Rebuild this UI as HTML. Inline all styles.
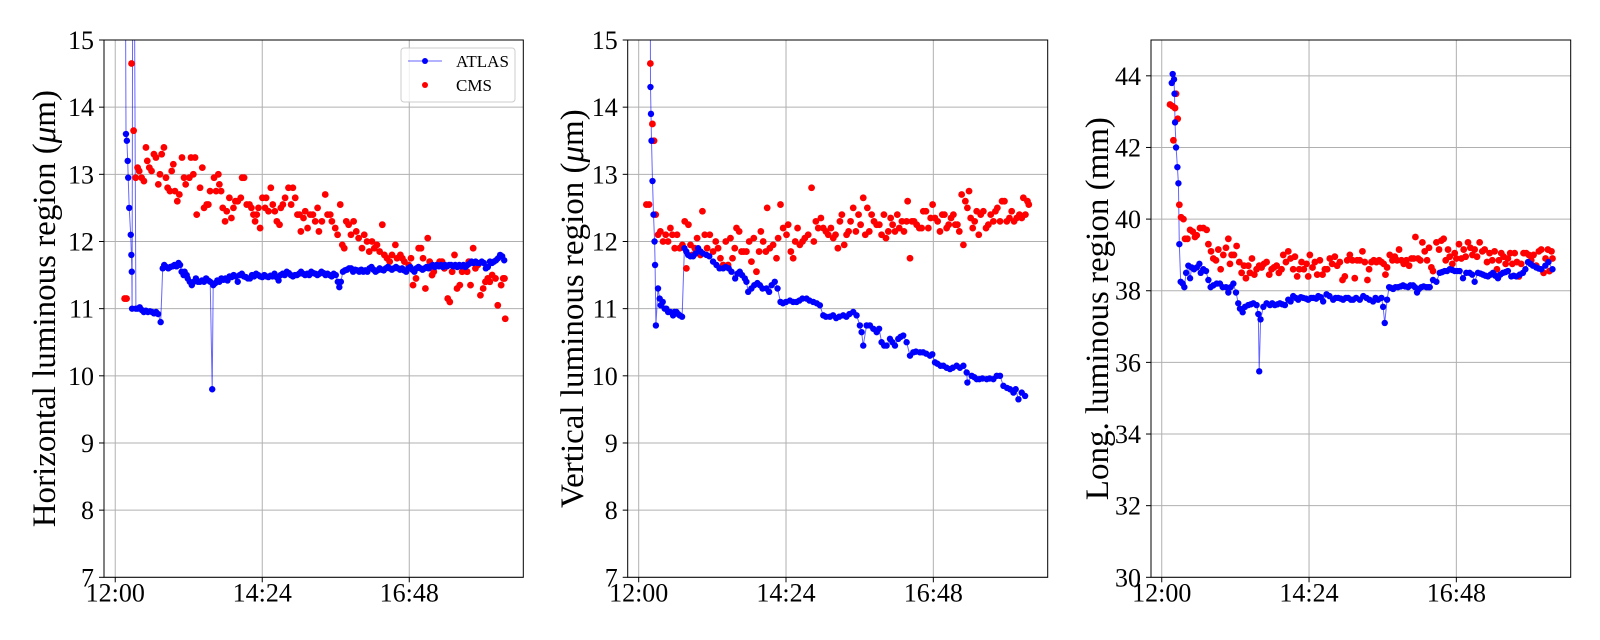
<!DOCTYPE html>
<html><head><meta charset="utf-8">
<style>
html,body{margin:0;padding:0;background:#fff;}
svg{display:block;font-family:"Liberation Serif","DejaVu Serif",serif;}
</style></head>
<body>
<svg id="fig" width="1600" height="640" viewBox="0 0 1600 640" xmlns="http://www.w3.org/2000/svg"></svg>
<script>
// ---- data (time in minutes after 12:00) ----
const xTickValues = [0, 144, 288];
const xTickLabels = ["12:00", "14:24", "16:48"];
const yTicksUm = [7, 8, 9, 10, 11, 12, 13, 14, 15];
const yTicksMm = [30, 32, 34, 36, 38, 40, 42, 44];

const hAtlasT = [9,10.5,11.4,12.2,12.7,13.7,15.2,15.8,16.2,16.5,17.5,20.2,22,24,26,28,30,32,34,36,38,40,42,44.5,46.5,48,50,52,54,56,58,60,62,63.5,65,67,68,70,71,73,75,77,79,81,83,85,87,89,91,93,95,96,98,100,102,104,106,108,110,112,114,116,118,120,122,124,126,128,130,132,134,136,138,140,142,144,146,148,150,152,154,156,158,160,162,164,166,168,170,172,174,176,178,180,182,184,186,188,190,192,194,196,198,200,202,204,206,208,210,212,214,216,218,219.5,221,223,225,227,229,231,233,235,237,239,241,243,245,247,249,251,253,255,257,259,261,263,265,267,269,271,273,275,277,279,281,283,285,287,289,291,293,295,297,299,301,303,305,307,309,311,313,315,317,319,321,323,325,327,329,331,333,335,337,339,341,343,345,347,349,351,353,355,357,359,361,363,365,367,369,371,373,375,377,379,381];
const hAtlasV = [20,13.6,13.5,13.2,12.95,12.5,12.1,11.8,11.55,11.0,20,11.0,11.0,11.02,10.98,10.95,10.97,10.95,10.96,10.95,10.93,10.95,10.92,10.8,11.6,11.65,11.62,11.6,11.62,11.63,11.65,11.63,11.68,11.65,11.55,11.5,11.55,11.5,11.45,11.4,11.35,11.4,11.45,11.4,11.4,11.42,11.4,11.45,11.42,11.4,9.8,11.35,11.38,11.42,11.4,11.45,11.43,11.45,11.42,11.48,11.47,11.5,11.48,11.4,11.5,11.52,11.48,11.47,11.45,11.45,11.5,11.48,11.52,11.5,11.48,11.47,11.5,11.48,11.47,11.49,11.48,11.52,11.47,11.42,11.5,11.52,11.5,11.55,11.53,11.5,11.48,11.5,11.5,11.52,11.55,11.52,11.5,11.52,11.5,11.55,11.53,11.52,11.5,11.52,11.55,11.53,11.5,11.52,11.5,11.48,11.52,11.5,11.4,11.32,11.4,11.55,11.57,11.58,11.6,11.6,11.55,11.58,11.57,11.55,11.58,11.55,11.57,11.55,11.6,11.62,11.58,11.55,11.57,11.6,11.58,11.57,11.6,11.62,11.6,11.58,11.6,11.62,11.6,11.58,11.6,11.57,11.55,11.6,11.62,11.58,11.55,11.6,11.62,11.6,11.58,11.6,11.62,11.6,11.63,11.65,11.62,11.65,11.63,11.65,11.62,11.65,11.63,11.65,11.65,11.63,11.65,11.62,11.65,11.63,11.65,11.62,11.65,11.67,11.7,11.68,11.7,11.68,11.68,11.7,11.68,11.6,11.62,11.7,11.68,11.7,11.72,11.75,11.8,11.78,11.72];

const hCmsT = [9.2,11.1,16,18,20,21.9,23.5,25.8,28.1,30.1,31.4,33.4,35.6,37.9,39.9,42.2,43.8,45.5,47.7,49.7,51.3,53.6,55.3,56.9,58.5,60.8,62.8,65.4,67.4,69,72.6,74.2,76.5,78.2,79.8,83.1,85.3,87,89.6,91.2,92.9,96.8,98.8,101,102,103.7,105.3,107.6,109.2,111.8,113.8,115.8,117.7,120,123,124.3,126.2,128.8,131.5,133.4,135.4,137,138.6,140.3,141.9,144.2,146.8,147.8,150.1,152.4,154.3,156.3,158.3,160.9,162.2,164.2,166.4,169.7,172.3,174,176.3,178.5,180.5,181.8,184.4,186.1,188.4,191,193.6,195.9,198.2,199.5,202.4,205.7,208,210.6,212.2,215.5,217.8,220.4,222.4,224.3,226.3,228.6,230.9,233.5,236.1,238.4,241.7,243.9,246.6,248.8,251.5,253.8,256.4,259,261.6,263.6,266.2,268.8,271.1,274.4,276,279.3,281.2,283.2,287.4,289.7,291.7,294.6,297.2,299.5,301.5,303.8,306.1,308,310.3,312,315.2,317.8,320.1,322.4,325.7,327.7,330,332.3,334.8,337.5,339.8,342,344.7,346.3,348,350.6,352.8,355.1,357.7,360.4,362.6,364.9,366.9,369.2,372.5,374.7,378,380,381.3,382];
const hCmsV = [11.15,11.15,14.65,13.65,12.95,13.1,13.05,12.95,12.9,13.4,13.2,13.1,13.05,13.3,13.25,12.85,13.0,13.3,13.4,12.95,12.8,12.75,13.05,13.15,12.75,12.6,12.7,13.25,12.95,12.85,12.95,13.25,13.0,13.25,12.4,12.8,13.1,12.5,12.55,12.55,12.75,12.95,12.75,13.0,12.85,12.75,12.5,12.3,12.45,12.65,12.35,12.5,12.6,12.6,12.65,12.95,12.95,12.55,12.55,12.5,12.4,12.3,12.4,12.5,12.2,12.65,12.5,12.65,12.45,12.8,12.55,12.45,12.3,12.25,12.5,12.55,12.65,12.8,12.55,12.8,12.65,12.4,12.4,12.15,12.35,12.45,12.2,12.4,12.4,12.3,12.5,12.15,12.3,12.7,12.4,12.4,12.3,12.2,12.1,12.55,11.95,11.9,12.3,12.25,12.1,12.3,12.15,12.05,11.9,12.1,12.0,11.85,12.0,11.9,11.95,11.85,12.25,11.8,11.75,11.7,11.8,11.95,11.75,11.8,11.75,11.7,11.65,11.75,11.35,11.45,11.9,11.9,11.75,11.3,12.05,11.7,11.5,11.55,11.65,11.7,11.7,11.6,11.15,11.1,11.55,11.8,11.3,11.35,11.55,11.6,11.55,11.7,11.35,11.9,11.6,11.65,11.2,11.3,11.4,11.45,11.4,11.5,11.45,11.05,11.35,11.45,11.45,10.85];

const vAtlasT = [10.8,11.5,12,12.5,13.5,14.5,15.5,16,16.8,18.9,20.5,21.5,23.5,25.4,27,28.7,31,33.6,35,36.9,38.5,40.1,42.4,44.7,46.5,48.3,50.5,53.2,55.5,58.1,60.5,63,66.2,69,72.7,76,79,82.5,85,88,90.7,94.3,96.5,98.8,101,103.7,105.3,107,110.2,113,116,118.4,121,124.9,127.5,130,133,135.7,138.6,141,144,147.8,151,154.3,157,160,164.1,167,170.6,174,177.1,180.4,183,186.9,190,193,196,199.9,203,206,209.7,213,216.2,217.9,219.5,222.8,226,229.3,232.6,235,237.4,240,242.3,245.6,248,250.5,253.7,256,258.6,261.9,265.2,268.4,271,275,278,281,284.7,287,289.6,292,295,297.8,301,304.3,307,310.8,314,317.4,320.6,321.3,325.5,328,330.4,333,336,340.2,343,346.7,350,353.2,356.5,360,363,366.3,368.5,371.2,374.4,377.7,381];
const vAtlasV = [20,14.3,13.9,13.5,12.9,12.4,12.0,11.65,10.75,11.3,11.15,11.05,11.1,11.0,11.0,10.95,10.95,10.9,10.95,10.95,10.92,10.9,10.88,11.9,11.85,11.8,11.78,11.78,11.82,11.9,11.85,11.82,11.8,11.78,11.7,11.65,11.6,11.6,11.62,11.6,11.55,11.45,11.52,11.55,11.5,11.45,11.4,11.25,11.3,11.35,11.38,11.35,11.3,11.3,11.25,11.35,11.4,11.3,11.1,11.08,11.1,11.12,11.1,11.1,11.12,11.15,11.15,11.12,11.1,11.08,11.05,10.9,10.88,10.88,10.9,10.86,10.88,10.9,10.88,10.92,10.95,10.9,10.75,10.65,10.45,10.75,10.75,10.7,10.65,10.7,10.5,10.45,10.45,10.55,10.5,10.45,10.55,10.58,10.6,10.5,10.3,10.35,10.36,10.35,10.35,10.33,10.3,10.32,10.2,10.18,10.15,10.15,10.12,10.1,10.12,10.15,10.12,10.15,10.05,9.9,10.0,9.98,9.95,9.95,9.96,9.95,9.96,9.95,10.0,10.0,9.85,9.82,9.8,9.75,9.8,9.65,9.75,9.7];

const vCmsT = [7.5,10.1,11.4,13.4,15,16.6,18.9,21.2,23.8,26.4,28.7,31,32.9,35.2,37.5,40.1,42.7,45,46.6,48.6,50.6,52.5,54.8,57.1,60.3,62.3,64.6,66.9,69.5,72.7,75.3,77.6,79.9,82.5,85.1,87.4,89.7,91.7,93.9,95.6,98.2,100.5,102.7,105.3,108,110.2,112.5,115.1,117.7,119.4,121.7,124.3,125.6,128.2,131.4,134.7,136.3,138.6,141.2,144.5,146.1,148.7,151,153,155.3,157.5,160.1,162.4,165.7,169,171.2,173.2,175.5,178.1,180.4,183,185.3,187.9,190.2,192.4,194.7,196.7,198.6,200.9,203.2,205.2,207.1,209.7,212.3,214.9,216.9,219.5,221.5,223.5,225.4,227.7,230,232.6,235.2,237.4,239.7,241.7,244,246.3,248.2,250.5,252.8,254.7,257.3,259.3,261.9,262.9,265.2,267.1,269.1,271.7,274.3,276.6,278.2,280.8,283.1,285.4,287.3,289.6,292.2,294.5,296.8,298.8,301,303,305.3,307.6,309.5,311.5,313.4,315.7,317.4,319.3,321.3,322.9,324.5,326.5,328.4,330.4,332.4,334.3,336.9,339.5,341.8,344.1,346.7,348.7,350.6,353.2,355.2,357.5,359.8,362.4,364.6,366.9,369.5,372.2,374.4,376,378,380,381.3];
const vCmsV = [12.55,12.55,14.65,13.75,13.5,12.4,12.1,12.15,12.0,12.1,12.0,12.2,12.1,11.9,12.1,11.9,11.95,12.3,11.6,12.25,11.95,11.8,11.9,12.05,11.8,12.45,12.1,11.9,12.1,11.85,12.0,11.9,11.75,11.65,12.0,11.65,12.05,11.75,11.9,12.2,12.15,11.85,11.85,11.85,12.0,11.7,12.05,11.55,11.85,12.15,12.0,11.85,12.5,11.9,11.95,11.75,12.05,12.55,12.2,12.1,12.25,11.85,11.75,12.0,12.2,11.95,12.0,12.05,12.1,12.8,12.0,12.3,12.2,12.35,12.2,12.15,12.1,12.2,12.05,12.1,11.9,12.3,12.4,11.95,12.1,12.15,12.3,12.5,12.15,12.4,12.25,12.65,12.1,12.5,12.15,12.4,12.3,12.25,12.25,12.1,12.4,12.05,12.15,12.35,12.25,12.15,12.4,12.2,12.3,12.15,12.3,12.6,11.75,12.3,12.3,12.25,12.2,12.2,12.45,12.45,12.2,12.35,12.55,12.35,12.3,12.15,12.4,12.4,12.2,12.25,12.35,12.4,12.25,12.25,12.15,12.7,11.95,12.6,12.5,12.75,12.35,12.2,12.3,12.45,12.1,12.4,12.45,12.2,12.25,12.4,12.3,12.45,12.5,12.3,12.6,12.6,12.3,12.35,12.45,12.3,12.35,12.4,12.35,12.65,12.4,12.6,12.55];

const lAtlasT = [9.8,10.7,12,12.5,13,14,15.3,16.3,17.2,18.5,20.5,22.1,23.8,26,27.7,29.3,31.6,34.2,36.8,38.1,40.7,43.3,45.6,47.8,50.4,53.7,56.9,59.6,62.8,65.1,67.4,70,72.6,74.8,76.5,79.1,81.4,84.6,87,89.5,92.7,94.4,95.3,96.6,99.3,102.5,105.8,108,110.6,113,115.5,118,120.4,123.7,126,128.5,131,133.4,136,138.3,141,143.2,146,148.1,151,153,155.5,157.8,161.1,164,167.6,170,172.5,175,177.3,180,182.2,185,187.1,190,193.6,197,200.1,203,206.6,209,211.5,214.8,216.4,218,220.3,222.3,224,226.2,228.5,231,233.5,235.9,238,240.8,243,245.7,247.5,249.6,251.5,253.8,256,258.7,260.5,262,265.2,268.5,271.7,274,276.6,279,281.5,284,286.4,289,291.2,294.5,297.7,301,303.5,305.9,309.1,311.5,314,316.5,318.9,321.5,323.8,326,328.7,331,333.5,336,338.4,341.7,344,346.6,350,353.1,355.5,358,360.5,362.8,366.1,368.5,371,375,378,382];
const lAtlasV = [43.8,44.05,43.9,43.5,42.7,42.0,41.45,41.0,39.3,38.25,38.2,38.1,38.5,38.7,38.35,38.65,38.6,38.65,38.75,38.5,38.6,38.55,38.3,38.1,38.15,38.2,38.2,38.1,38.1,37.95,38.1,38.2,37.95,37.65,37.5,37.4,37.55,37.6,37.62,37.65,37.6,37.35,35.75,37.2,37.55,37.65,37.6,37.65,37.6,37.62,37.65,37.62,37.6,37.75,37.7,37.85,37.8,37.75,37.82,37.8,37.78,37.75,37.8,37.8,37.78,37.85,37.82,37.7,37.9,37.85,37.75,37.8,37.8,37.78,37.75,37.8,37.8,37.75,37.75,37.8,37.75,37.85,37.8,37.75,37.7,37.8,37.75,37.8,37.55,37.1,37.75,38.1,38.08,38.05,38.1,38.1,38.12,38.15,38.12,38.1,38.15,38.15,38.1,37.95,38.05,38.1,38.12,38.1,38.1,38.1,38.3,38.25,38.5,38.52,38.55,38.55,38.6,38.58,38.55,38.55,38.55,38.35,38.5,38.5,38.45,38.25,38.5,38.48,38.45,38.42,38.4,38.45,38.5,38.42,38.35,38.45,38.5,38.52,38.55,38.4,38.42,38.4,38.45,38.5,38.6,38.8,38.75,38.7,38.65,38.62,38.6,38.7,38.8,38.6];

const lCmsT = [8.1,10.7,11.4,13,14,15.6,17.2,18.9,21.2,22.8,25.1,27.7,30.3,32.5,34.2,37.4,40.7,43.9,45.6,48.2,50.4,53,55.3,57.6,60.2,62.8,65.1,66.7,68.3,70.6,73.2,75.8,78.1,80.4,82.3,84.6,86.2,88.2,90.5,92.7,95.3,97.6,99.9,102.5,105.1,107.4,109.7,112.3,114.5,117.1,118.8,121.4,123.7,125.9,128.5,130.2,132.4,134.4,136.7,138.9,141.6,143.2,144.8,147.4,149.7,152,154.6,157.2,159.5,161.7,164.3,166.6,169.2,171.5,174.1,176.7,179,181.3,183.9,186.5,188.7,191,193.6,196.2,198.5,201.1,202.7,205,207.3,209.9,212.5,214.8,217,218.7,220.3,222.9,225.5,227.8,230.1,232,234.3,236.6,239.2,241.8,244.1,246.3,248,250.6,252.8,254.8,257.1,259.4,261.3,263.6,265.2,268.5,271.1,273.3,275.6,277.6,279.9,281.5,284.1,286.4,288,290.6,292.9,295.2,297.1,299.4,301.7,303.7,305.9,308.2,310.8,313.4,315.7,318,320.5,323.1,325.4,327.7,329.6,331.9,334.2,336.2,338.4,340.7,342.7,345,347.2,349.2,351.4,353.7,356.3,358.9,361.2,363.5,366.1,368.7,371,373.3,375.2,377.5,379,381,382];
const lCmsV = [43.2,43.15,42.2,43.1,43.5,42.8,40.4,40.05,40.0,39.45,39.45,39.7,39.65,39.5,39.55,39.75,39.75,39.7,39.3,39.1,38.9,38.85,39.15,38.6,39.0,39.2,39.45,38.75,39.0,39.0,39.25,38.8,38.5,38.7,38.35,38.7,38.5,38.9,38.45,38.6,38.7,38.65,38.75,38.8,38.45,38.6,38.65,38.7,38.5,38.6,39.0,38.8,39.1,38.9,38.6,38.95,38.4,38.6,38.8,38.6,38.75,38.4,39.0,38.65,38.8,38.45,38.85,38.45,38.6,38.6,38.9,38.75,38.95,38.7,38.8,38.3,38.4,38.85,39.0,38.85,38.35,38.85,38.85,39.1,38.8,38.3,38.6,38.8,38.85,38.8,38.85,38.8,38.75,38.45,38.65,39.0,38.85,38.95,38.85,39.15,38.85,38.75,38.85,38.7,38.9,38.9,39.5,38.9,38.85,39.35,39.1,38.85,39.2,38.65,38.55,39.35,39.15,39.4,39.45,38.85,39.15,38.95,38.75,39.05,38.9,39.3,38.9,39.15,38.95,39.35,39.2,39.0,39.15,38.95,39.35,39.1,39.15,38.8,39.05,38.85,39.1,38.6,38.85,39.05,38.95,38.75,38.9,39.05,38.75,39.05,38.8,38.4,38.75,39.05,39.05,39.0,38.85,39.0,38.7,39.1,39.15,38.5,38.9,39.15,38.55,39.1,38.9];

// ---- rendering ----
const NS = "http://www.w3.org/2000/svg";
const fig = document.getElementById("fig");
function mk(tag, attrs, parent) {
  const e = document.createElementNS(NS, tag);
  for (const k in attrs) e.setAttribute(k, attrs[k]);
  (parent || fig).appendChild(e);
  return e;
}

const panels = [
  {id:"horizontal", left:104, right:523.3, xmin:-11, xmax:399.7, ymin:7, ymax:15, yticks:yTicksUm,
   title:"Horizontal luminous region (", unit:"μ", unitEnd:"m)", titleX:44,
   atlasT:hAtlasT, atlasV:hAtlasV, cmsT:hCmsT, cmsV:hCmsV, legend:true},
  {id:"vertical", left:627.7, right:1047.7, xmin:-10.75, xmax:399.8, ymin:7, ymax:15, yticks:yTicksUm,
   title:"Vertical luminous region (", unit:"μ", unitEnd:"m)", titleX:572,
   atlasT:vAtlasT, atlasV:vAtlasV, cmsT:vCmsT, cmsV:vCmsV, legend:false},
  {id:"longitudinal", left:1151, right:1570.7, xmin:-10.5, xmax:399.8, ymin:30, ymax:45, yticks:yTicksMm,
   title:"Long. luminous region (mm)", unit:"", unitEnd:"", titleX:1097,
   atlasT:lAtlasT, atlasV:lAtlasV, cmsT:lCmsT, cmsV:lCmsV, legend:false}
];
const TOP = 40, BOTTOM = 577.3;

panels.forEach((p, pi) => {
  const xs = t => p.left + (t - p.xmin) / (p.xmax - p.xmin) * (p.right - p.left);
  const ys = v => BOTTOM - (v - p.ymin) / (p.ymax - p.ymin) * (BOTTOM - TOP);
  const g = mk("g", {});
  
  
  const clipId = "clip" + pi;
  const cp = mk("clipPath", {id: clipId}, g);
  mk("rect", {x:p.left, y:TOP, width:p.right-p.left, height:BOTTOM-TOP}, cp);

  const grid = mk("g", {stroke:"#b0b0b0", "stroke-width":"1"}, g);
  
  
  p.yticks.forEach(v => { mk("line", {x1:p.left, x2:p.right, y1:ys(v), y2:ys(v)}, grid); });
  xTickValues.forEach(t => { mk("line", {x1:xs(t), x2:xs(t), y1:TOP, y2:BOTTOM}, grid); });

  const yax = mk("g", {}, g);
  
  
  p.yticks.forEach(v => {
    mk("line", {x1:p.left-5, x2:p.left, y1:ys(v), y2:ys(v), stroke:"#000", "stroke-width":"1"}, yax);
    const tx = mk("text", {x:p.left-10, y:ys(v)+9, "text-anchor":"end", "font-size":"26", fill:"#000"}, yax);
    
    
    tx.textContent = v;
  });
  const xax = mk("g", {}, g);
  
  
  xTickValues.forEach((t, i) => {
    mk("line", {x1:xs(t), x2:xs(t), y1:BOTTOM, y2:BOTTOM+5, stroke:"#000", "stroke-width":"1"}, xax);
    const tx = mk("text", {x:xs(t), y:BOTTOM+24, "text-anchor":"middle", "font-size":"26", fill:"#000"}, xax);
    
    
    tx.textContent = xTickLabels[i];
  });
  const yt = mk("text", {x:0, y:0, "text-anchor":"middle", "font-size":"33", fill:"#000",
    transform:"translate(" + (p.titleX + 11) + "," + ((TOP+BOTTOM)/2) + ") rotate(-90)"}, g);
  
  
  yt.appendChild(document.createTextNode(p.title));
  if (p.unit) {
    const ts = mk("tspan", {"font-style":"italic"}, yt);
    ts.textContent = p.unit;
    yt.appendChild(document.createTextNode(p.unitEnd));
  }

  const plot = mk("g", {"clip-path":"url(#" + clipId + ")"}, g);
  const pts = p.atlasT.map((t, i) => xs(t).toFixed(1) + "," + ys(p.atlasV[i]).toFixed(1)).join(" ");
  const line = mk("polyline", {points:pts, fill:"none", stroke:"#0000ff", "stroke-opacity":"0.6", "stroke-width":"1"}, plot);
  
  
  const cmsG = mk("g", {fill:"#ff0000"}, plot);
  
  
  p.cmsT.forEach((t, i) => {
    const c = mk("circle", {cx:xs(t), cy:ys(p.cmsV[i]), r:3.4}, cmsG);
    
    
  });
  const atG = mk("g", {fill:"#0000ff"}, plot);
  
  
  p.atlasT.forEach((t, i) => {
    const c = mk("circle", {cx:xs(t), cy:ys(p.atlasV[i]), r:3.2}, atG);
    
    
  });

  const fr = mk("rect", {x:p.left, y:TOP, width:p.right-p.left, height:BOTTOM-TOP, fill:"none", stroke:"#000", "stroke-width":"1"}, g);
  
  

  if (p.legend) {
    const lg = mk("g", {}, g);
    
    
    mk("rect", {x:401, y:48, width:114, height:54, rx:3, fill:"#fff", "fill-opacity":"0.8", stroke:"#cccccc", "stroke-width":"1"}, lg);
    const e1 = mk("g", {}, lg);
    
    
    mk("line", {x1:408, x2:442, y1:61, y2:61, stroke:"#0000ff", "stroke-opacity":"0.6", "stroke-width":"1"}, e1);
    mk("circle", {cx:425, cy:61, r:3, fill:"#0000ff"}, e1);
    const t1 = mk("text", {x:456, y:67, "font-size":"17", fill:"#000"}, e1);
    t1.textContent = "ATLAS";
    const e2 = mk("g", {}, lg);
    
    
    mk("circle", {cx:425, cy:85, r:3, fill:"#ff0000"}, e2);
    const t2 = mk("text", {x:456, y:91, "font-size":"17", fill:"#000"}, e2);
    t2.textContent = "CMS";
  }
});
</script>
</body></html>
